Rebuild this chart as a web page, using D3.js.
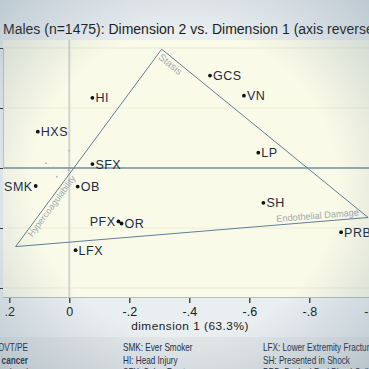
<!DOCTYPE html>
<html><head><meta charset="utf-8">
<script src="https://cdn.jsdelivr.net/npm/d3@7"></script>
<style>html,body{margin:0;padding:0;overflow:hidden;background:#e6ecee}</style>
</head><body>
<svg id="c" width="369" height="369"></svg>
<script>
// ---- data ----
const labels = ["GCS","VN","LP","HI","HXS","SFX","SMK","OB","PFX","OR","LFX","SH","PRB"];
const dim1   = [-0.469,-0.582,-0.630,-0.077,0.105,-0.077,0.112,-0.028,-0.164,-0.174,-0.021,-0.647,-0.906];
const dim2   = [0.308,0.241,0.051,0.234,0.121,0.013,-0.060,-0.062,-0.178,-0.185,-0.274,-0.116,-0.214];
const labelSide = ["r","r","r","r","r","r","l","r","l","r","r","r","r"];
const minorX = [0.000,0.078,0.053,0.042,0.003];
const minorY = [0.058,0.016,0.002,-0.029,-0.007];
const triName = ["Stasis","Hypercoagulability","Endothelial Damage"];
const triX = [-0.308,0.179,-0.996];
const triY = [0.396,-0.262,-0.165];
const xTicks = [0.2,0,-0.2,-0.4,-0.6,-0.8,-1];
const xTickLabels = [".2","0","-.2","-.4","-.6","-.8","-1"];
const yTicks = [0.4,0.2,0,-0.2,-0.4];
const title = "Males (n=1475): Dimension 2 vs. Dimension 1 (axis reversed)";
const xTitle = "dimension 1 (63.3%)";
const legendCols = [
  ["History of DVT/PE","History of cancer","Pre-operative head"],
  ["SMK: Ever Smoker","HI: Head Injury","SFX: Spine Fracture"],
  ["LFX: Lower Extremity Fracture","SH: Presented in Shock","PRB: Packed Red Blood Cells"]
];

const FONT = "Liberation Sans, Arial, sans-serif";
const svg = d3.select("#c");
const defs = svg.append("defs");
const rg = defs.append("radialGradient").attr("id","vig").attr("cx","50%").attr("cy","50%").attr("r","75%");
rg.append("stop").attr("offset","55%").attr("stop-color","#5a7890").attr("stop-opacity",0);
rg.append("stop").attr("offset","100%").attr("stop-color","#5a7890").attr("stop-opacity",0.35);

const x = d3.scaleLinear().domain([0,-1]).range([69.3,369.3]);
const y = d3.scaleLinear().domain([0,0.4]).range([168,48]);
const L = 3, T = 40, B = 297, R = 400;

// background
svg.append("rect").attr("width",369).attr("height",369).attr("fill","#e9eef0");
// legend band
svg.append("rect").attr("x",0).attr("y",337).attr("width",369).attr("height",40).attr("fill","#e2e6e7");
// plot area
svg.append("rect").attr("x",L).attr("y",T).attr("width",R-L).attr("height",B-T).attr("fill","#fafae8");

const clip = defs.append("clipPath").attr("id","pc");
clip.append("rect").attr("x",L).attr("y",T).attr("width",R-L).attr("height",B-T);
const g = svg.append("g").attr("clip-path","url(#pc)");

// faint gridlines
g.selectAll(".gl").data(yTicks).join("line")
  .attr("x1",L).attr("x2",R).attr("y1",d=>y(d)).attr("y2",d=>y(d))
  .attr("stroke","#ecedd8").attr("stroke-width",1);
// x=0 reference line
g.append("line").attr("x1",x(0)).attr("x2",x(0)).attr("y1",T).attr("y2",B)
  .attr("stroke","#cfd6cf").attr("stroke-width",2);
// y=0 reference line
g.append("line").attr("x1",L).attr("x2",R).attr("y1",y(0)).attr("y2",y(0))
  .attr("stroke","#3d5f84").attr("stroke-width",1.1);

// minor points
g.selectAll(".mp").data(minorX).join("circle")
  .attr("cx",(d,i)=>x(d)).attr("cy",(d,i)=>y(minorY[i])).attr("r",0.9).attr("fill","#aab0b0");

// triangle
const tri = triX.map((d,i)=>[x(d),y(triY[i])]);
g.append("path").attr("d",d3.line()([...tri,tri[0]]))
  .attr("fill","none").attr("stroke","#5f7e98").attr("stroke-width",1);

function edgeLabel(txt, p0, p1, t, off, anchor, fs){
  const ang = Math.atan2(p1[1]-p0[1], p1[0]-p0[0])*180/Math.PI;
  const px = p0[0]+(p1[0]-p0[0])*t, py = p0[1]+(p1[1]-p0[1])*t;
  g.append("text").attr("transform",`translate(${px},${py}) rotate(${ang}) translate(0,${off})`)
    .attr("text-anchor",anchor).attr("font-family",FONT)
    .attr("font-size",fs).attr("fill","#a2abb2").text(txt);
}
edgeLabel(triName[0], tri[0], tri[2], 0.01, 9.5, "start", 10);
edgeLabel(triName[1], tri[1], tri[0], 0.07, 8, "start", 9);
edgeLabel(triName[2], tri[1], tri[2], 0.975, -3, "end", 9.2);

// points
const pts = labels.map((l,i)=>({l, x:x(dim1[i]), y:y(dim2[i]), s:labelSide[i]}));
g.selectAll(".pt").data(pts).join("circle")
  .attr("cx",d=>d.x).attr("cy",d=>d.y).attr("r",1.9).attr("fill","#111");
g.selectAll(".pl").data(pts).join("text")
  .attr("x",d=>d.s==="r"?d.x+3:d.x-3).attr("y",d=>d.y+4.5)
  .attr("text-anchor",d=>d.s==="r"?"start":"end")
  .attr("font-family",FONT).attr("font-size",12.5)
  .attr("letter-spacing",0.5).attr("fill","#1b2b44").text(d=>d.l);

// axes
const ax = svg.append("g").attr("transform",`translate(0,${B})`)
  .call(d3.axisBottom(x).tickValues(xTicks).tickFormat((d,i)=>xTickLabels[i]).tickSize(6).tickPadding(4));
ax.select(".domain").attr("stroke-opacity",0);
ax.selectAll(".tick line").attr("stroke","#222").attr("stroke-width",1.2);
ax.selectAll(".tick text").attr("font-family",FONT).attr("font-size",12.5).attr("fill","#1a1a1a");
svg.append("line").attr("x1",L).attr("x2",369).attr("y1",B+0.5).attr("y2",B+0.5).attr("stroke","#b8bcbc").attr("stroke-width",1);

const ay = svg.append("g").attr("transform",`translate(${L},0)`)
  .call(d3.axisLeft(y).tickValues(yTicks).tickFormat("").tickSize(5));
ay.select(".domain").attr("stroke","#c0c6c6");
ay.selectAll(".tick line").attr("stroke","#333");

svg.append("text").attr("x",190).attr("y",330).attr("text-anchor","middle")
  .attr("font-family",FONT).attr("font-size",11.8)
  .attr("letter-spacing",0.5).attr("fill","#1a1a1a").text(xTitle);

// title
svg.append("text").attr("x",3).attr("y",33.5)
  .attr("font-family",FONT).attr("font-size",14)
  .attr("fill","#1a1a1a").text(title);

// legend (condensed text)
const colX = [28, 123, 263];
const rowY = [350.5, 364, 376];
legendCols.forEach((col,ci)=>{
  col.forEach((t,ri)=>{
    svg.append("text").attr("transform",`translate(${colX[ci]},${rowY[ri]}) scale(0.82,1)`)
      .attr("text-anchor",ci===0?"end":"start")
      .attr("font-family",FONT).attr("font-size",10)
      .attr("font-weight",ci===0&&ri===1?"bold":"normal")
      .attr("fill","#1b2b44").text(t);
  });
});

// vignette
svg.append("rect").attr("width",369).attr("height",369).attr("fill","url(#vig)").attr("pointer-events","none");
</script>
</body></html>
